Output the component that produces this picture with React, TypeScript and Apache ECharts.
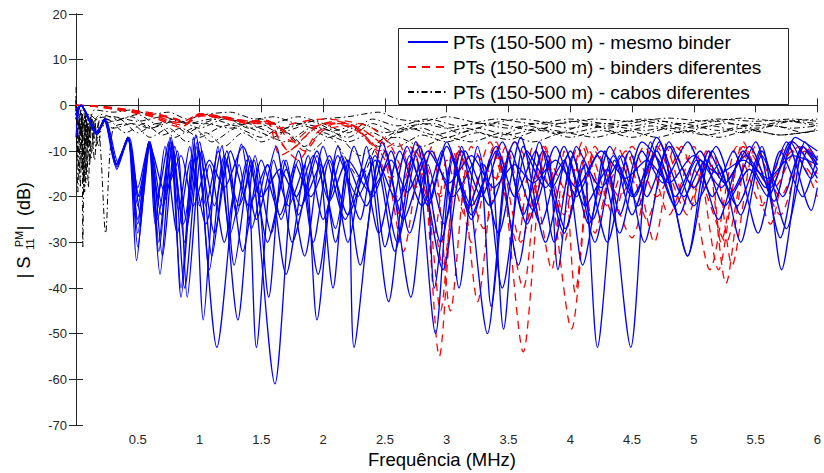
import React, { useEffect, useRef } from "react";
import * as echarts from "echarts";

const NAME_BLUE = "PTs (150-500 m) - mesmo binder";
const NAME_RED = "PTs (150-500 m) - binders diferentes";
const NAME_BLACK = "PTs (150-500 m) - cabos diferentes";

const X_TICKS = { min: 0, max: 6, interval: 0.5 };
const Y_TICKS = { min: -70, max: 20, interval: 10 };

// ---- blue: mesmo binder  [MHz, dB]
const blue1 = [[0,-7],[0.04,0],[0.17,-6],[0.23,-3],[0.33,-13],[0.42,-7],[0.49,-34],[0.59,-8],[0.66,-25],[0.77,-7],[0.85,-42],[0.97,-6.5],[1.14,-53],[1.34,-8.5],[1.46,-25],[1.62,-9],[1.75,-30],[1.95,-10],[2.1,-27],[2.2,-12],[2.25,-53],[2.45,-12],[2.6,-30],[2.75,-11],[2.91,-50],[3.05,-12],[3.2,-22],[3.4,-10],[3.58,-35],[3.75,-8],[3.95,-28],[4.1,-12],[4.22,-53],[4.4,-11],[4.55,-22],[4.72,-8],[4.95,-33],[5.15,-10],[5.35,-22],[5.55,-9],[5.71,-36],[5.9,-8],[6.0,-12]];
const blue2 = [[0,-1],[0.04,0],[0.17,-6.5],[0.23,-3],[0.33,-14],[0.42,-7],[0.5,-28],[0.59,-8],[0.68,-37],[0.78,-8],[0.88,-30],[0.98,-9],[1.05,-22],[1.15,-10],[1.31,-47],[1.45,-11],[1.58,-28],[1.7,-12],[1.8,-24],[1.95,-11],[2.08,-40],[2.2,-13],[2.35,-22],[2.5,-10],[2.71,-42],[2.85,-13],[2.98,-26],[3.12,-9],[3.33,-50],[3.5,-11],[3.62,-24],[3.78,-10],[3.96,-27],[4.12,-13],[4.3,-30],[4.48,-10],[4.62,-20],[4.8,-9],[5.0,-22],[5.2,-13],[5.38,-30],[5.55,-11],[5.72,-20],[5.88,-9],[6.0,-14]];
const blue3 = [[0,-2],[0.04,0],[0.16,-6],[0.23,-3.5],[0.32,-13],[0.42,-7.5],[0.51,-20],[0.6,-8.5],[0.7,-33],[0.8,-9],[0.9,-26],[1.0,-8],[1.1,-33],[1.22,-12],[1.3,-24],[1.4,-11],[1.61,-61],[1.78,-13],[1.9,-20],[2.05,-11],[2.2,-30],[2.35,-9],[2.53,-43],[2.7,-11],[2.85,-21],[3.0,-8],[3.2,-25],[3.35,-12],[3.46,-49],[3.62,-9],[3.8,-18],[3.95,-12],[4.1,-35],[4.28,-10],[4.49,-53],[4.65,-8],[4.85,-22],[5.02,-12],[5.2,-25],[5.4,-10],[5.58,-18],[5.75,-8],[5.95,-23],[6.0,-18]];
const blue4 = [[0,-3],[0.04,0],[0.17,-6],[0.24,-3],[0.34,-12.5],[0.43,-7],[0.52,-24],[0.6,-8],[0.67,-30],[0.76,-7],[0.85,-40],[0.95,-7],[1.03,-47],[1.15,-9],[1.25,-28],[1.38,-12],[1.46,-53],[1.6,-12],[1.72,-22],[1.85,-13],[1.95,-47],[2.12,-9],[2.3,-25],[2.42,-11],[2.6,-21],[2.78,-9],[2.95,-30],[3.12,-10],[3.28,-20],[3.45,-8],[3.65,-26],[3.82,-11],[3.9,-36],[4.05,-9],[4.25,-18],[4.42,-11],[4.6,-30],[4.8,-8],[5.0,-18],[5.18,-9],[5.38,-24],[5.55,-10],[5.75,-27],[5.92,-10],[6.0,-13]];
const blue5 = [[0,-1],[0.04,0],[0.17,-6],[0.23,-3],[0.33,-13],[0.42,-7],[0.5,-31],[0.6,-8],[0.7,-22],[0.82,-10],[0.9,-42],[1.02,-10],[1.12,-22],[1.22,-10],[1.35,-32],[1.5,-12],[1.65,-24],[1.8,-10],[1.96,-37],[2.12,-11],[2.28,-20],[2.42,-12],[2.58,-32],[2.75,-8],[2.97,-36],[3.15,-10],[3.35,-22],[3.55,-8],[3.76,-26],[3.95,-9],[4.12,-22],[4.3,-14],[4.4,-24],[4.58,-8],[4.78,-15],[4.95,-33],[5.12,-10],[5.3,-19],[5.5,-8],[5.7,-29],[5.88,-9],[6.0,-12]];
const blue6 = [[0,-2],[0.04,0],[0.17,-6],[0.23,-3],[0.33,-13.5],[0.42,-7],[0.5,-22],[0.59,-8],[0.64,-26],[0.72,-9],[0.82,-28],[0.93,-12],[1.05,-26],[1.18,-9],[1.28,-35],[1.42,-12],[1.55,-30],[1.7,-14],[1.85,-33],[2.0,-9],[2.18,-25],[2.32,-14],[2.45,-28],[2.62,-10],[2.8,-22],[2.96,-10],[3.1,-40],[3.25,-9],[3.42,-28],[3.6,-7],[3.8,-30],[3.98,-11],[4.15,-26],[4.32,-9],[4.52,-20],[4.7,-7],[4.92,-20],[5.1,-12],[5.25,-17],[5.45,-9],[5.65,-21],[5.82,-7],[6.0,-10]];
const blue7 = [[0,-1],[0.04,0],[0.17,-6],[0.23,-3],[0.33,-13],[0.42,-7],[0.5,-25],[0.59,-8],[0.66,-20],[0.75,-8],[0.83,-23],[0.92,-9],[1.0,-22],[1.08,-13],[1.2,-30],[1.32,-13],[1.42,-27],[1.55,-13],[1.7,-37],[1.88,-11],[2.0,-25],[2.15,-11],[2.3,-35],[2.48,-8],[2.65,-25],[2.82,-12],[2.9,-40],[3.05,-11],[3.2,-24],[3.4,-9],[3.55,-20],[3.72,-10],[3.87,-30],[4.02,-11],[4.2,-30],[4.36,-12],[4.5,-24],[4.68,-11],[4.88,-24],[5.05,-12],[5.22,-18],[5.42,-11],[5.62,-18],[5.8,-8],[6.0,-16]];
const blue8 = [[0,-2],[0.04,0],[0.17,-6],[0.23,-3],[0.33,-13],[0.42,-7],[0.5,-18],[0.59,-8],[0.67,-32],[0.77,-8],[0.87,-26],[0.98,-8],[1.08,-36],[1.2,-11],[1.32,-22],[1.44,-12],[1.56,-42],[1.68,-12],[1.82,-22],[1.98,-13],[2.1,-30],[2.25,-9],[2.4,-20],[2.55,-10],[2.7,-28],[2.88,-10],[3.05,-20],[3.25,-11],[3.36,-44],[3.52,-10],[3.7,-23],[3.88,-9],[4.05,-20],[4.22,-11],[4.4,-28],[4.58,-10],[4.75,-17],[4.95,-8],[5.15,-20],[5.32,-10],[5.52,-28],[5.7,-10],[5.88,-20],[6.0,-11]];
const blue9 = [[0,-2],[0.04,0],[0.17,-6],[0.23,-3],[0.33,-13],[0.42,-7],[0.5,-20],[0.6,-9],[0.72,-19],[0.85,-11],[0.95,-22],[1.08,-12],[1.2,-18],[1.35,-9],[1.5,-20],[1.65,-14],[1.78,-20],[1.92,-11],[2.05,-21],[2.2,-12],[2.38,-19],[2.55,-12],[2.68,-19],[2.85,-10],[3.02,-17],[3.2,-11],[3.38,-18],[3.55,-13],[3.7,-17],[3.88,-12],[4.05,-18],[4.25,-10],[4.45,-16],[4.62,-12],[4.8,-17],[5.0,-11],[5.2,-15],[5.4,-12],[5.6,-16],[5.8,-11],[6.0,-13]];
const blue10 = [[0,-3],[0.04,0],[0.17,-6],[0.23,-3],[0.33,-13],[0.42,-7],[0.5,-26],[0.59,-8],[0.69,-24],[0.78,-9],[0.88,-40],[1.0,-10],[1.12,-28],[1.25,-10],[1.4,-22],[1.55,-13],[1.66,-25],[1.8,-12],[1.92,-30],[2.05,-12],[2.2,-24],[2.38,-11],[2.5,-31],[2.68,-9],[2.85,-22],[3.0,-9],[3.18,-22],[3.3,-13],[3.45,-40],[3.65,-10],[3.85,-18],[4.0,-10],[4.18,-25],[4.35,-11],[4.5,-20],[4.7,-10],[4.85,-20],[5.05,-10],[5.25,-22],[5.45,-14],[5.6,-20],[5.78,-8],[5.95,-16],[6.0,-14]];

// ---- red: binders diferentes
const red1 = [[0,0],[0.2,-0.3],[0.58,-2],[0.81,-3],[0.87,-4.5],[1.0,-2],[1.19,-2.7],[1.38,-3.6],[1.55,-3.5],[1.65,-5],[1.75,-4],[2.0,-3],[2.2,-3.5],[2.4,-5],[2.55,-9],[2.65,-14],[2.78,-9],[2.94,-55],[3.1,-9],[3.25,-20],[3.4,-8],[3.62,-54],[3.8,-9],[3.95,-24],[4.1,-8],[4.3,-22],[4.5,-9],[4.7,-20],[4.9,-9],[5.13,-36],[5.35,-9],[5.55,-22],[5.75,-9],[6.0,-17]];
const red2 = [[0,0],[0.2,-0.4],[0.58,-2.2],[0.85,-4.8],[1.0,-2.2],[1.2,-2.8],[1.4,-3.8],[1.55,-4],[1.68,-9],[1.8,-12],[1.95,-6],[2.1,-4],[2.3,-6],[2.45,-10],[2.6,-8],[2.75,-18],[2.88,-9],[3.03,-45],[3.2,-9],[3.4,-16],[3.55,-8],[3.7,-16],[3.85,-36],[3.95,-10],[4.04,-41],[4.2,-9],[4.5,-29],[4.7,-9],[4.95,-24],[5.1,-10],[5.26,-39],[5.45,-10],[5.65,-18],[5.85,-9],[6.0,-13]];
const red3 = [[0,0],[0.2,-0.2],[0.6,-1.8],[0.83,-3.2],[0.88,-4],[1.0,-1.8],[1.2,-2.5],[1.38,-3.4],[1.55,-3.3],[1.64,-7],[1.72,-10],[1.85,-7],[2.0,-4],[2.2,-4],[2.35,-7],[2.5,-12],[2.65,-32],[2.8,-10],[2.97,-35],[3.1,-10],[3.25,-43],[3.42,-9],[3.6,-30],[3.78,-10],[4.01,-49],[4.2,-10],[4.4,-20],[4.6,-9],[4.8,-24],[5.0,-9],[5.2,-36],[5.4,-9],[5.6,-17],[5.8,-10],[6.0,-20]];
const red4 = [[0,0],[0.2,-0.4],[0.6,-2.3],[0.86,-4.3],[1.02,-2.3],[1.2,-3],[1.4,-4],[1.58,-4],[1.7,-6],[1.85,-10],[2.0,-5.5],[2.2,-4.5],[2.38,-8],[2.55,-16],[2.7,-9],[2.85,-22],[2.95,-45],[3.1,-10],[3.3,-27],[3.48,-9],[3.65,-25],[3.8,-10],[3.95,-30],[4.1,-9],[4.25,-20],[4.45,-10],[4.62,-25],[4.82,-9],[5.0,-18],[5.15,-10],[5.31,-35],[5.5,-9],[5.7,-20],[5.9,-9],[6.0,-12]];
const red5 = [[0,0],[0.2,-0.3],[0.6,-2],[0.84,-3.8],[1.0,-2],[1.2,-2.6],[1.4,-3.5],[1.6,-3.8],[1.75,-8],[1.9,-5],[2.1,-3.5],[2.3,-5],[2.48,-9],[2.6,-20],[2.75,-10],[2.9,-28],[3.0,-12],[3.15,-24],[3.35,-8],[3.57,-30],[3.7,-9],[3.9,-22],[4.06,-9],[4.2,-28],[4.38,-9],[4.55,-18],[4.75,-8],[4.95,-22],[5.12,-10],[5.22,-30],[5.4,-8],[5.62,-26],[5.8,-8],[6.0,-15]];
const red6 = [[0,0],[0.2,-0.2],[0.6,-1.6],[0.82,-3],[0.88,-4.2],[1.0,-1.9],[1.2,-2.6],[1.38,-3.5],[1.55,-3.6],[1.65,-11],[1.78,-9],[1.95,-4.5],[2.15,-3.8],[2.35,-6],[2.5,-9],[2.62,-24],[2.75,-8],[2.95,-20],[3.05,-10],[3.2,-30],[3.38,-9],[3.62,-40],[3.78,-9],[4.0,-20],[4.15,-10],[4.35,-24],[4.5,-11],[4.68,-30],[4.85,-9],[5.05,-16],[5.26,-30],[5.45,-9],[5.7,-24],[5.9,-10],[6.0,-13]];

// ---- black: cabos diferentes
const black1 = [[0,4],[0.01,-12],[0.02,-1],[0.035,-18],[0.05,-2],[0.055,-31],[0.07,-3],[0.085,-14],[0.1,-4],[0.13,-10],[0.16,-3],[0.2,-2],[0.35,-3],[0.5,-2],[0.65,-4],[0.8,-3],[1.0,-5],[1.2,-3],[1.4,-4],[1.6,-6],[1.8,-4],[2.0,-5],[2.2,-7],[2.4,-4],[2.6,-6],[2.8,-4],[3.0,-5],[3.25,-4],[3.5,-5],[3.75,-4],[4.0,-5],[4.25,-4],[4.5,-4.5],[4.75,-3.5],[5.0,-5],[5.25,-4],[5.5,-4.5],[5.75,-3.5],[6.0,-4.5]];
const black2 = [[0,2],[0.015,-19],[0.03,-2],[0.045,-14],[0.06,-3],[0.08,-17],[0.1,-4],[0.12,-12],[0.15,-3],[0.18,-9],[0.22,-4],[0.3,-5],[0.45,-4],[0.6,-7],[0.75,-5],[0.9,-8],[1.05,-6],[1.2,-9],[1.35,-6],[1.5,-8],[1.7,-6],[1.9,-10],[2.05,-7],[2.3,-16],[2.45,-8],[2.6,-7],[2.8,-9],[3.0,-7],[3.2,-8],[3.45,-6],[3.7,-8],[3.95,-6],[4.2,-7],[4.45,-5.5],[4.7,-7],[4.95,-5.5],[5.2,-7],[5.45,-5.5],[5.7,-6.5],[6.0,-5.5]];
const black3 = [[0,1],[0.02,-8],[0.04,-1],[0.06,-12],[0.08,-2],[0.1,-18],[0.12,-3],[0.15,-1],[0.3,-1.5],[0.45,-1],[0.6,-2],[0.75,-1.5],[0.9,-3],[1.05,-2],[1.25,-1.5],[1.45,-3],[1.6,-2.5],[1.8,-4],[2.0,-3],[2.2,-2.5],[2.45,-1.5],[2.6,-3],[2.8,-3.5],[3.0,-2.5],[3.3,-4],[3.6,-3],[3.9,-4],[4.2,-3],[4.5,-3.5],[4.8,-2.8],[5.1,-3.5],[5.4,-2.8],[5.7,-3.5],[6.0,-3]];
const black4 = [[0,0],[0.05,-3],[0.1,-2],[0.18,-4],[0.24,-28],[0.3,-5],[0.45,-4],[0.6,-5],[0.75,-3.5],[0.9,-6],[1.05,-4],[1.25,-5],[1.45,-3.5],[1.65,-6],[1.85,-4.5],[2.05,-7],[2.25,-5],[2.45,-9],[2.6,-6],[2.8,-5],[3.0,-7],[3.25,-5],[3.5,-6.5],[3.75,-5],[4.0,-6],[4.3,-4.5],[4.6,-5.5],[4.9,-4],[5.2,-5.5],[5.5,-4],[5.8,-5],[6.0,-4.5]];
const black5 = [[0,0],[0.03,-6],[0.06,-1],[0.09,-9],[0.12,-3],[0.15,-12],[0.18,-4],[0.25,-3],[0.4,-6],[0.55,-4],[0.7,-6.5],[0.85,-5],[1.0,-7],[1.15,-5],[1.3,-4],[1.5,-6],[1.7,-8],[1.9,-5],[2.1,-6],[2.3,-11],[2.5,-7],[2.7,-5],[2.9,-6.5],[3.15,-5],[3.4,-7],[3.65,-4.5],[3.9,-6],[4.15,-4],[4.4,-6],[4.65,-4.5],[4.9,-6],[5.15,-4.5],[5.4,-6],[5.65,-4.5],[5.9,-6],[6.0,-5]];
const black6 = [[0,1],[0.02,-5],[0.04,-1],[0.065,-18],[0.08,-3],[0.1,-9],[0.12,-2],[0.14,-7],[0.17,-3],[0.3,-2.5],[0.5,-3.5],[0.7,-2.5],[0.9,-4],[1.1,-3],[1.3,-4.5],[1.5,-3],[1.7,-5],[1.9,-3.5],[2.1,-5.5],[2.3,-4],[2.5,-6],[2.7,-4.5],[2.9,-4],[3.1,-6],[3.4,-4],[3.7,-5.5],[4.0,-3.5],[4.3,-5],[4.6,-3.5],[4.9,-5],[5.2,-3.5],[5.5,-5],[5.8,-3.5],[6.0,-4]];
const black7 = [[0,0],[0.02,-10],[0.04,-4],[0.06,-16],[0.08,-2],[0.1,-8],[0.13,-3],[0.16,-9],[0.2,-5],[0.35,-3],[0.5,-6],[0.65,-4],[0.8,-7],[0.95,-5],[1.1,-8],[1.3,-5],[1.5,-7],[1.65,-5],[1.85,-9],[2.0,-6],[2.2,-8],[2.4,-6],[2.6,-9],[2.8,-6.5],[3.0,-8],[3.25,-6],[3.5,-7.5],[3.75,-5.5],[4.0,-7],[4.25,-5.5],[4.5,-7],[4.8,-5],[5.1,-6.5],[5.4,-5],[5.7,-6.5],[6.0,-5.5]];
const black8 = [[0,0],[0.025,-15],[0.05,-2],[0.07,-19],[0.09,-3],[0.11,-13],[0.13,-3],[0.17,-6],[0.2,-2.5],[0.3,-3.5],[0.45,-2.5],[0.6,-5],[0.8,-3.5],[1.0,-4],[1.2,-2.5],[1.4,-5],[1.6,-4],[1.8,-2.5],[2.0,-4],[2.2,-6],[2.4,-3],[2.6,-4.5],[2.85,-3],[3.1,-4.5],[3.4,-3],[3.7,-4],[4.0,-3],[4.3,-4],[4.6,-3],[4.9,-4],[5.2,-3],[5.5,-3.5],[5.8,-3],[6.0,-3.5]];

const BLUE_CURVES = [blue1, blue2, blue3, blue4, blue5, blue6, blue7, blue8, blue9, blue10];
const RED_CURVES = [red1, red2, red3, red4, red5, red6];
const BLACK_CURVES = [black1, black2, black3, black4, black5, black6, black7, black8];

const FONT = "'Liberation Sans', Arial, Helvetica, sans-serif";
const AXIS_COLOR = "#262626";

function makeSeries(curves: number[][][], name: string, color: string, width: number, type: any, z: number) {
  return curves.map((d) => ({
    type: "line",
    name,
    data: d,
    symbol: "none",
    showSymbol: false,
    smooth: 0.25,
    silent: true,
    z,
    lineStyle: { color, width, type },
    itemStyle: { color },
  }));
}

export default function App() {
  const ref = useRef<HTMLDivElement>(null);
  useEffect(() => {
    if (!ref.current) return;
    const chart = echarts.init(ref.current, undefined, { renderer: "svg" });
    const axisCommon = {
      type: "value",
      axisLine: { show: true, lineStyle: { color: AXIS_COLOR, width: 1 } },
      axisTick: { show: true, inside: true, length: 7, lineStyle: { color: AXIS_COLOR, width: 1 } },
      splitLine: { show: false },
    };
    const series = [
      ...makeSeries(BLACK_CURVES, NAME_BLACK, "#000000", 1, [6, 3, 1.5, 3], 2),
      ...makeSeries(RED_CURVES, NAME_RED, "#ff0000", 1.3, [8, 6], 3),
      ...makeSeries(BLUE_CURVES, NAME_BLUE, "#0000ff", 1.3, "solid", 4),
    ];
    const lbl = (text: string, x: number, y: number, size: number) => ({
      type: "text",
      x,
      y,
      style: { text, font: `${size}px ${FONT}`, fill: "#000", textAlign: "center", textVerticalAlign: "middle" },
    });
    chart.setOption({
      animation: false,
      backgroundColor: "#ffffff",
      textStyle: { fontFamily: FONT },
      grid: { left: 76, right: -2, top: 14, bottom: 48, containLabel: false },
      xAxis: [
        {
          ...axisCommon,
          position: "bottom",
          ...X_TICKS,
          axisLabel: { show: true, fontSize: 13, color: AXIS_COLOR, margin: 8, showMinLabel: false, fontFamily: FONT },
        },
        {
          ...axisCommon,
          position: "top",
          ...X_TICKS,
          axisLabel: { show: false },
        },
      ],
      yAxis: [
        {
          ...axisCommon,
          position: "left",
          ...Y_TICKS,
          axisLabel: { show: true, fontSize: 13, color: AXIS_COLOR, margin: 9, fontFamily: FONT },
        },
        {
          ...axisCommon,
          position: "right",
          ...Y_TICKS,
          axisLabel: { show: false },
        },
      ],
      legend: {
        data: [NAME_BLUE, NAME_RED, NAME_BLACK],
        orient: "vertical",
        left: 407,
        top: 32,
        padding: 0,
        itemWidth: 40,
        itemHeight: 14,
        itemGap: 5,
        selectedMode: false,
        z: 101,
        itemStyle: { opacity: 0 },
        textStyle: { fontSize: 19, lineHeight: 20, color: "#000", fontFamily: FONT },
      },
      graphic: [
        {
          type: "rect",
          z: 100,
          shape: { x: 398.5, y: 28.5, width: 390, height: 76 },
          style: { fill: "#ffffff", stroke: AXIS_COLOR, lineWidth: 1 },
        },
        lbl("Frequência (MHz)", 442, 459, 18.5),
        {
          type: "group",
          x: 24,
          y: 282,
          rotation: Math.PI / 2,
          children: [
            lbl("|", 6, 0, 18),
            lbl("S", 19.5, 0, 18),
            lbl("PM", 43, -5, 11),
            lbl("11", 38, 6, 11),
            lbl("|", 54, 0, 18),
            lbl("(dB)", 83, 0, 18),
          ],
        },
      ],
      series,
    });
    return () => chart.dispose();
  }, []);
  return <div ref={ref} style={{ position: "fixed", left: 0, top: 0, width: 824, height: 473 }} />;
}
